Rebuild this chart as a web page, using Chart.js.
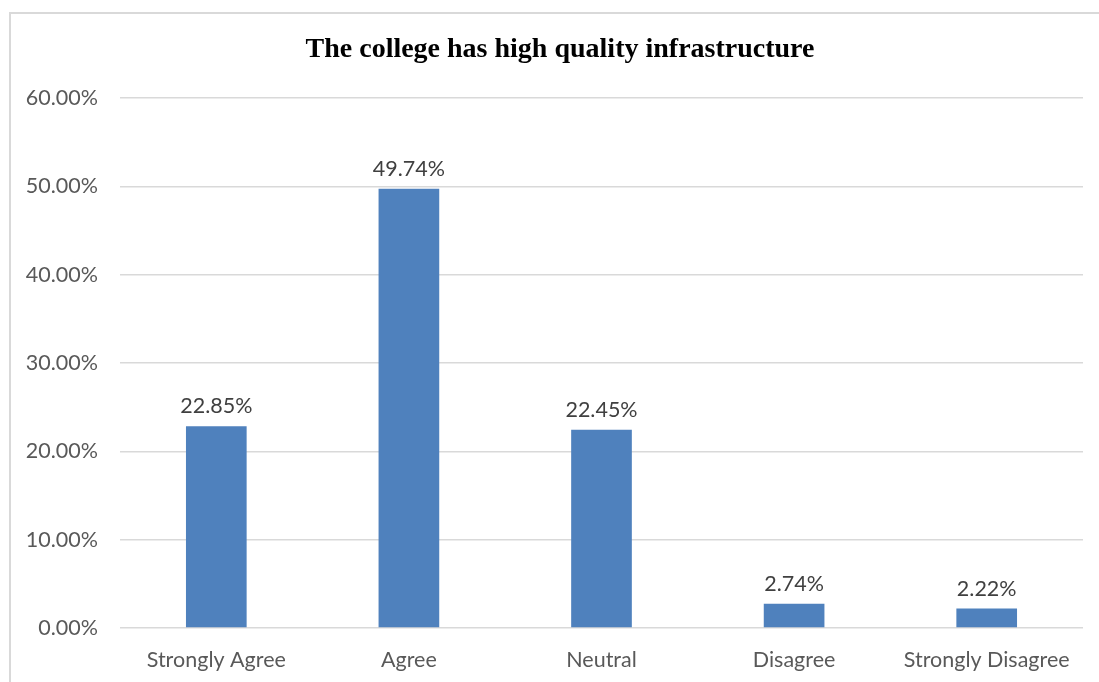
<!DOCTYPE html>
<html>
<head>
<meta charset="utf-8">
<script src="https://cdn.jsdelivr.net/npm/chart.js"></script>
<style>
  html, body { margin: 0; padding: 0; background: #ffffff; overflow: hidden; }
  #frame {
    position: absolute; left: 9px; top: 12px; width: 1200px; height: 800px;
    border: 2px solid #d9d9d9; box-sizing: border-box;
  }
  #wrap { position: absolute; left: 0; top: 0; width: 1099px; height: 682px; }
</style>
</head>
<body>
<div id="frame"></div>
<div id="wrap"><canvas id="chart"></canvas></div>
<script>
// Chart data
const categories = ['Strongly Agree', 'Agree', 'Neutral', 'Disagree', 'Strongly Disagree'];
const shares = [0.2285, 0.4974, 0.2245, 0.0274, 0.0222];
const chartTitle = 'The college has high quality infrastructure';

const pct = (v) => (v * 100).toFixed(2) + '%';
const labelFont = 'Lato, "Open Sans", sans-serif';

// Value labels above each bar, plus the title centred on the outer frame
const barLabels = {
  id: 'barLabels',
  afterDatasetsDraw(chart) {
    const ctx = chart.ctx;
    const meta = chart.getDatasetMeta(0);
    ctx.save();
    ctx.fillStyle = '#404040';
    ctx.font = '21.5px ' + labelFont;
    ctx.textAlign = 'center';
    ctx.textBaseline = 'bottom';
    meta.data.forEach((bar, i) => {
      ctx.fillText(pct(shares[i]), bar.x, bar.y - 9);
    });

    ctx.fillStyle = '#000000';
    ctx.font = 'bold 28px "Liberation Serif", "Times New Roman", serif';
    ctx.textBaseline = 'middle';
    ctx.fillText(chartTitle, 560, 50);
    ctx.restore();
  }
};

new Chart(document.getElementById('chart'), {
  type: 'bar',
  data: {
    labels: categories,
    datasets: [{
      data: shares,
      backgroundColor: '#4f81bd',
      categoryPercentage: 1,
      barPercentage: 0.315
    }]
  },
  options: {
    responsive: true,
    maintainAspectRatio: false,
    animation: false,
    layout: { padding: { left: 0, right: 16, top: 98, bottom: 0 } },
    plugins: {
      legend: { display: false },
      tooltip: { enabled: false },
      title: { display: false }
    },
    scales: {
      x: {
        grid: { display: false, drawTicks: false },
        border: { display: false },
        ticks: {
          color: '#595959',
          font: { family: labelFont, size: 21.5 },
          padding: 19,
          maxRotation: 0
        },
        afterFit(scale) { scale.height = 54; }
      },
      y: {
        min: 0,
        max: 0.6,
        ticks: {
          stepSize: 0.1,
          color: '#595959',
          font: { family: labelFont, size: 21.5 },
          padding: 22,
          callback: (v) => pct(v)
        },
        grid: { color: '#d9d9d9', lineWidth: 1.5, drawTicks: false },
        border: { display: false },
        afterFit(scale) { scale.width = 120; }
      }
    }
  },
  plugins: [barLabels]
});
</script>
</body>
</html>
